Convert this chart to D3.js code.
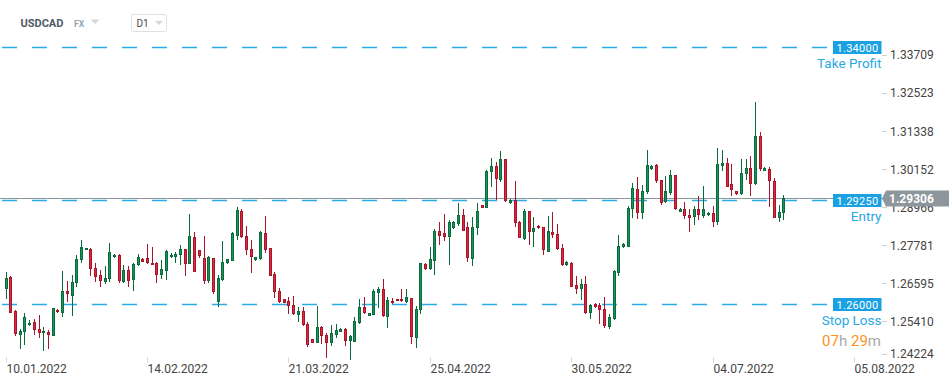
<!DOCTYPE html>
<html><head><meta charset="utf-8">
<script src="https://cdn.jsdelivr.net/npm/d3@7"></script>
<style>html,body{margin:0;padding:0;background:#fff;overflow:hidden}svg{display:block;font-family:Roboto,"Open Sans",sans-serif}</style>
</head><body><svg id="c" width="949" height="385"></svg>
<script>
const opens = [1.2646,1.2684,1.2578,1.2503,1.2512,1.2534,1.2543,1.2522,1.2509,1.2512,1.2499,1.2582,1.2573,1.2641,1.2625,1.2665,1.2738,1.2768,1.2771,1.2712,1.2690,1.2670,1.2677,1.2746,1.2753,1.2668,1.2706,1.2674,1.2721,1.2740,1.2744,1.2729,1.2729,1.2690,1.2704,1.2746,1.2748,1.2752,1.2771,1.2726,1.2810,1.2769,1.2743,1.2673,1.2744,1.2605,1.2675,1.2727,1.2735,1.2812,1.2891,1.2812,1.2772,1.2736,1.2740,1.2821,1.2776,1.2694,1.2642,1.2616,1.2610,1.2597,1.2566,1.2579,1.2537,1.2490,1.2480,1.2527,1.2504,1.2480,1.2502,1.2514,1.2523,1.2486,1.2483,1.2542,1.2592,1.2564,1.2566,1.2634,1.2647,1.2561,1.2610,1.2616,1.2616,1.2605,1.2620,1.2493,1.2580,1.2725,1.2708,1.2735,1.2828,1.2821,1.2808,1.2836,1.2850,1.2878,1.2839,1.2740,1.2836,1.2909,1.2900,1.3011,1.3030,1.2987,1.3052,1.2914,1.2924,1.2857,1.2802,1.2890,1.2823,1.2843,1.2839,1.2763,1.2825,1.2818,1.2776,1.2721,1.2729,1.2660,1.2648,1.2663,1.2571,1.2600,1.2597,1.2585,1.2527,1.2554,1.2698,1.2777,1.2779,1.2895,1.2959,1.2885,1.2948,1.3020,1.3033,1.2987,1.2917,1.2947,1.3002,1.2888,1.2896,1.2878,1.2870,1.2896,1.2873,1.2877,1.2883,1.2857,1.3031,1.3039,1.2973,1.2953,1.2942,1.3004,1.3023,1.2973,1.3124,1.3016,1.3021,1.2982,1.2869,1.2885];
const highs = [1.2701,1.2686,1.2582,1.2522,1.2571,1.2551,1.2553,1.2565,1.2528,1.2519,1.2589,1.2584,1.2703,1.2672,1.2691,1.2753,1.2800,1.2774,1.2773,1.2729,1.2706,1.2717,1.2789,1.2755,1.2756,1.2722,1.2717,1.2727,1.2756,1.2742,1.2787,1.2777,1.2732,1.2737,1.2767,1.2758,1.2763,1.2784,1.2771,1.2881,1.2823,1.2769,1.2812,1.2751,1.2744,1.2691,1.2795,1.2741,1.2823,1.2902,1.2895,1.2843,1.2800,1.2748,1.2826,1.2875,1.2776,1.2701,1.2649,1.2616,1.2623,1.2625,1.2592,1.2590,1.2545,1.2491,1.2594,1.2532,1.2509,1.2535,1.2537,1.2525,1.2525,1.2502,1.2561,1.2615,1.2623,1.2573,1.2646,1.2652,1.2677,1.2621,1.2618,1.2617,1.2648,1.2648,1.2620,1.2594,1.2729,1.2727,1.2779,1.2833,1.2857,1.2881,1.2862,1.2858,1.2914,1.2896,1.2857,1.2870,1.2914,1.2909,1.3018,1.3054,1.3042,1.3077,1.3052,1.2926,1.2984,1.2859,1.2896,1.2890,1.2870,1.2845,1.2839,1.2875,1.2888,1.2850,1.2787,1.2733,1.2731,1.2688,1.2677,1.2688,1.2599,1.2602,1.2604,1.2623,1.2569,1.2706,1.2815,1.2789,1.2904,1.2978,1.2997,1.2971,1.3080,1.3032,1.3037,1.2987,1.2999,1.3018,1.3002,1.2898,1.2919,1.2896,1.2904,1.2937,1.2969,1.2888,1.2906,1.3085,1.3080,1.3056,1.3037,1.2953,1.3052,1.3052,1.3062,1.3228,1.3137,1.3027,1.3026,1.2992,1.2907,1.2940];
const lows = [1.2615,1.2571,1.2499,1.2459,1.2473,1.2532,1.2504,1.2493,1.2455,1.2459,1.2499,1.2572,1.2559,1.2605,1.2563,1.2654,1.2727,1.2767,1.2688,1.2670,1.2652,1.2663,1.2669,1.2744,1.2665,1.2665,1.2652,1.2639,1.2719,1.2730,1.2725,1.2720,1.2667,1.2677,1.2675,1.2743,1.2727,1.2722,1.2686,1.2725,1.2701,1.2743,1.2663,1.2667,1.2632,1.2592,1.2673,1.2725,1.2735,1.2800,1.2805,1.2753,1.2698,1.2734,1.2737,1.2758,1.2686,1.2618,1.2602,1.2602,1.2568,1.2566,1.2545,1.2530,1.2467,1.2478,1.2478,1.2476,1.2433,1.2468,1.2493,1.2512,1.2470,1.2426,1.2483,1.2538,1.2569,1.2563,1.2566,1.2587,1.2558,1.2525,1.2600,1.2609,1.2606,1.2602,1.2476,1.2462,1.2569,1.2706,1.2706,1.2689,1.2784,1.2795,1.2722,1.2834,1.2843,1.2829,1.2732,1.2717,1.2815,1.2898,1.2898,1.2966,1.2924,1.2981,1.2919,1.2912,1.2839,1.2805,1.2798,1.2784,1.2779,1.2834,1.2753,1.2761,1.2807,1.2769,1.2719,1.2719,1.2653,1.2632,1.2611,1.2568,1.2554,1.2588,1.2538,1.2525,1.2522,1.2550,1.2686,1.2775,1.2777,1.2869,1.2865,1.2864,1.2942,1.3018,1.2978,1.2909,1.2914,1.2940,1.2893,1.2886,1.2865,1.2823,1.2847,1.2862,1.2869,1.2874,1.2841,1.2847,1.3016,1.2964,1.2937,1.2941,1.2940,1.2987,1.2937,1.2971,1.3016,1.3013,1.2901,1.2869,1.2857,1.2862];
const closes = [1.2680,1.2573,1.2506,1.2515,1.2559,1.2540,1.2518,1.2509,1.2516,1.2502,1.2587,1.2574,1.2641,1.2631,1.2669,1.2740,1.2777,1.2773,1.2708,1.2684,1.2671,1.2680,1.2761,1.2753,1.2671,1.2706,1.2673,1.2725,1.2748,1.2732,1.2727,1.2721,1.2690,1.2708,1.2764,1.2753,1.2756,1.2771,1.2726,1.2812,1.2701,1.2751,1.2673,1.2746,1.2636,1.2680,1.2731,1.2739,1.2820,1.2893,1.2810,1.2769,1.2745,1.2745,1.2823,1.2769,1.2688,1.2636,1.2605,1.2602,1.2594,1.2568,1.2579,1.2533,1.2473,1.2480,1.2527,1.2499,1.2480,1.2509,1.2519,1.2523,1.2486,1.2499,1.2547,1.2592,1.2571,1.2571,1.2639,1.2647,1.2563,1.2613,1.2602,1.2610,1.2608,1.2622,1.2497,1.2585,1.2727,1.2708,1.2740,1.2829,1.2812,1.2808,1.2854,1.2856,1.2878,1.2829,1.2743,1.2839,1.2890,1.2900,1.3015,1.3030,1.2990,1.3052,1.2922,1.2924,1.2852,1.2807,1.2890,1.2823,1.2838,1.2836,1.2767,1.2826,1.2815,1.2771,1.2722,1.2731,1.2654,1.2648,1.2663,1.2571,1.2597,1.2590,1.2580,1.2530,1.2559,1.2703,1.2781,1.2787,1.2900,1.2961,1.2885,1.2952,1.3033,1.3030,1.2982,1.2916,1.2952,1.3002,1.2895,1.2896,1.2873,1.2869,1.2896,1.2876,1.2896,1.2884,1.2857,1.3037,1.3039,1.2966,1.2954,1.2943,1.3008,1.3023,1.2973,1.3124,1.3021,1.3025,1.2982,1.2869,1.2886,1.29306];

const xTickIndex = [0, 30, 60, 90, 120, 150, 180];
const xTickLabels = ["10.01.2022","14.02.2022","21.03.2022","25.04.2022","30.05.2022","04.07.2022","05.08.2022"];
const yTickValues = [1.33709,1.32523,1.31338,1.30152,1.28966,1.27781,1.26595,1.25410,1.24224];
const levelValues = [1.34, 1.2925, 1.26];
const levelNames = ["Take Profit","Entry","Stop Loss"];
const lastPrice = 1.29306;
const symbol = "USDCAD", market = "FX", interval = "D1";
const countdownParts = ["07","h ","29","m"];

const svg = d3.select("#c");
const x = d3.scaleLinear().domain([0, 180]).range([5.6, 5.6 + 180 * 4.713]);
const y = d3.scaleLinear().domain([1.26, 1.34]).range([304, 47.3]);

const BLUE = "#1ba1e2";
const GREEN = "#17935b", GREEN_D = "#0b6a3c";
const RED = "#e02a3c", RED_D = "#a8142a";

// header
svg.append("text").attr("x", 20.5).attr("y", 27).attr("font-size", 11).attr("font-weight", 700).attr("fill", "#4e5a65").text(symbol);
svg.append("text").attr("x", 74).attr("y", 27).attr("font-size", 8.5).attr("font-weight", 700).attr("fill", "#93a6b5").text(market);
svg.append("path").attr("d", "M90.5,19.5 L99.5,19.5 L95,24 Z").attr("fill", "#d3d8dc");
svg.append("rect").attr("x", 131.5).attr("y", 14.5).attr("width", 35).attr("height", 17).attr("rx", 2).attr("fill", "#fff").attr("stroke", "#dde1e4");
svg.append("text").attr("x", 136.5).attr("y", 27).attr("font-size", 10).attr("fill", "#4a4a4a").text(interval);
svg.append("path").attr("d", "M155,21 L163,21 L159,25 Z").attr("fill", "#d3d8dc");

// level dashed lines
levelValues.forEach(v => {
  const yy = Math.round(y(v)) + 0.5;
  svg.append("line").attr("x1", 2).attr("x2", 827).attr("y1", yy).attr("y2", yy)
    .attr("stroke", "#2aaae8").attr("stroke-width", 1.4).attr("stroke-dasharray", "15,15");
});

// last price line
const ly = Math.round(y(lastPrice)) + 0.5;
svg.append("line").attr("x1", 0).attr("x2", 884).attr("y1", ly).attr("y2", ly).attr("stroke", "#8d969b").attr("stroke-width", 1);

// candles
const g = svg.append("g");
opens.forEach((o, i) => {
  const c = closes[i], h = highs[i], l = lows[i];
  const up = c >= o;
  const px = Math.round(x(i));
  g.append("line").attr("x1", px + 0.5).attr("x2", px + 0.5)
    .attr("y1", Math.round(y(h))).attr("y2", Math.round(y(l)))
    .attr("stroke", up ? GREEN_D : RED_D).attr("stroke-width", 1);
  const top = Math.round(y(Math.max(o, c)));
  const bot = Math.round(y(Math.min(o, c)));
  g.append("rect").attr("x", px - 0.5).attr("width", 2)
    .attr("y", top + 0.5).attr("height", Math.max(1, bot - top - 1))
    .attr("fill", up ? GREEN : RED).attr("stroke", up ? GREEN_D : RED_D).attr("stroke-width", 1);
});

// level boxes & names
levelValues.forEach((v, k) => {
  const yy = y(v);
  svg.append("rect").attr("x", 833).attr("y", Math.round(yy) - 6).attr("width", 48.5).attr("height", 13).attr("fill", BLUE);
  svg.append("text").attr("x", 857.5).attr("y", Math.round(yy) + 4.5).attr("text-anchor", "middle")
    .attr("font-size", 11).attr("fill", "#fff").attr("letter-spacing", 0.3).text(d3.format(".5f")(v));
  svg.append("text").attr("x", 881.5).attr("y", Math.round(yy) + 20.5).attr("text-anchor", "end")
    .attr("font-size", 13.5).attr("fill", "#29a8e3").text(levelNames[k]);
});

// right axis
yTickValues.forEach(v => {
  const yy = Math.min(y(v) - 1.5, 354);
  svg.append("line").attr("x1", 882).attr("x2", 887).attr("y1", Math.round(yy) + 0.5).attr("y2", Math.round(yy) + 0.5).attr("stroke", "#d0d0d0");
  svg.append("text").attr("x", 890).attr("y", yy + 4.3).attr("font-size", 12).attr("fill", "#444").text(d3.format(".5f")(v));
});

// last price label
svg.append("path").attr("d", `M882,${ly} L886,${ly - 8} L949,${ly - 8} L949,${ly + 8} L886,${ly + 8} Z`).attr("fill", "#8c969b");
svg.append("text").attr("x", 889).attr("y", ly + 4.5).attr("font-size", 12).attr("font-weight", 700).attr("fill", "#fff").text(d3.format(".5f")(lastPrice));

// countdown
const cd = svg.append("text").attr("x", 881).attr("y", 346).attr("text-anchor", "end").attr("font-size", 15);
countdownParts.forEach((t, k) => cd.append("tspan").attr("fill", k % 2 === 0 ? "#f7941d" : "#a9a9a9").text(t));

// bottom axis
xTickIndex.forEach((ti, k) => {
  const xx = Math.round(x(ti)) + 0.5;
  svg.append("line").attr("x1", xx).attr("x2", xx).attr("y1", 357).attr("y2", 363).attr("stroke", "#dcdcdc");
  svg.append("text").attr("x", xx).attr("y", 373).attr("font-size", 12).attr("fill", "#444").text(xTickLabels[k]);
});
</script></body></html>
